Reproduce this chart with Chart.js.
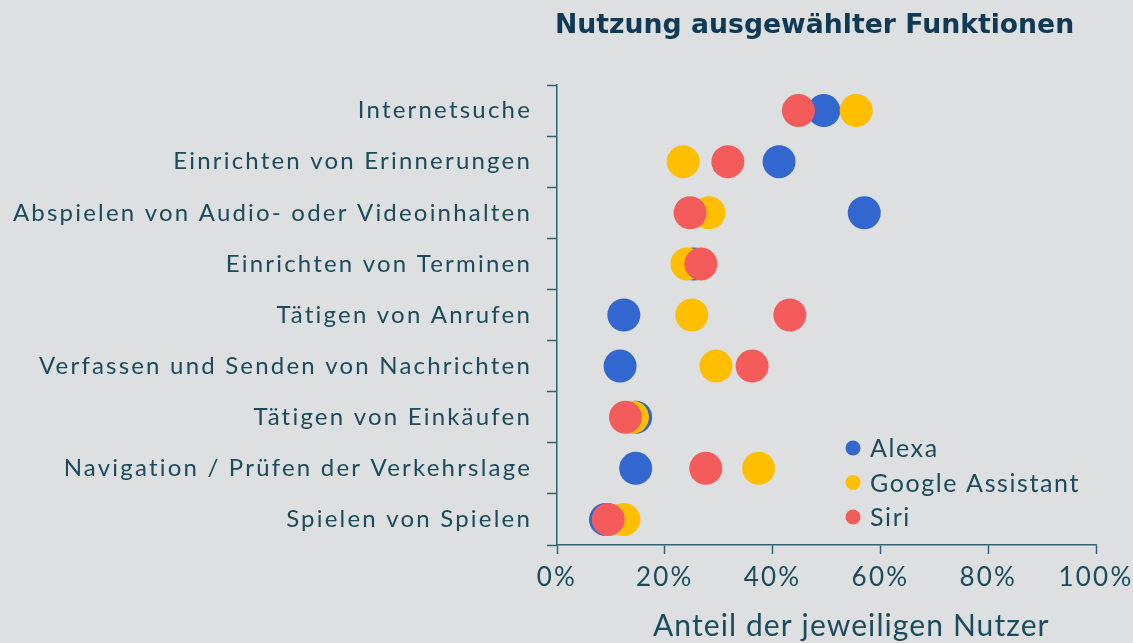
<!DOCTYPE html>
<html lang="de">
<head>
<meta charset="utf-8">
<title>Nutzung ausgewählter Funktionen</title>
<script src="https://cdn.jsdelivr.net/npm/chart.js@4.4.1/dist/chart.umd.min.js"></script>
<style>
  html, body { margin: 0; padding: 0; background: #dddfe0; }
  #wrap { width: 1133px; height: 643px; position: relative; }
</style>
</head>
<body>
<div id="wrap"><canvas id="chart" width="1133" height="643"></canvas></div>
<script>
const categories = [
    'Internetsuche',
    'Einrichten von Erinnerungen',
    'Abspielen von Audio- oder Videoinhalten',
    'Einrichten von Terminen',
    'Tätigen von Anrufen',
    'Verfassen und Senden von Nachrichten',
    'Tätigen von Einkäufen',
    'Navigation / Prüfen der Verkehrslage',
    'Spielen von Spielen'
];
const alexa = [49.5, 41.2, 57.0, 25.4, 12.4, 11.7, 14.6, 14.6, 9.0];
const googleAssistant = [55.5, 23.4, 28.2, 24.1, 25.0, 29.5, 14.0, 37.4, 12.4];
const siri = [44.8, 31.7, 24.7, 26.7, 43.2, 36.2, 12.7, 27.6, 9.5];
const xTicks = [0, 20, 40, 60, 80, 100];

const title = 'Nutzung ausgewählter Funktionen';
const xTitle = 'Anteil der jeweiligen Nutzer';

const axisColor = '#2e6470';
const textColor = '#1b4b5c';
const fontFamily = 'Lato, "Noto Sans", sans-serif';

// the original font is wide, so spread the letters a little
const spacing = {
    id: 'spacing',
    beforeDraw(chart) { chart.ctx.letterSpacing = '2.2px'; },
    beforeDatasetsDraw(chart) { chart.ctx.letterSpacing = '0px'; }
};

// titles and in-chart legend
const extraText = {
    id: 'extraText',
    afterDraw(chart) {
        const { ctx, chartArea } = chart;
        ctx.save();
        ctx.textBaseline = 'alphabetic';
        ctx.textAlign = 'left';
        ctx.fillStyle = '#0e3a56';
        ctx.letterSpacing = '0px';
        ctx.font = 'bold 26.7px "DejaVu Sans", sans-serif';
        ctx.fillText(title, chartArea.left - 2, 33);

        ctx.fillStyle = textColor;
        ctx.letterSpacing = '1.1px';
        ctx.font = '30px ' + fontFamily;
        ctx.fillText(xTitle, chartArea.left + 96, 636);

        // legend
        ctx.textBaseline = 'middle';
        ctx.letterSpacing = '1.6px';
        ctx.font = '25px ' + fontFamily;
        chart.data.datasets.forEach((ds, i) => {
            const y = 448 + i * 34.5;
            ctx.beginPath();
            ctx.fillStyle = ds.backgroundColor;
            ctx.arc(853, y, 7.5, 0, Math.PI * 2);
            ctx.fill();
            ctx.fillStyle = textColor;
            ctx.fillText(ds.label, 870, y + 1);
        });
        ctx.restore();
    }
};

const ctx = document.getElementById('chart').getContext('2d');
new Chart(ctx, {
    type: 'line',
    data: {
        labels: categories,
        datasets: [
            { label: 'Alexa', data: alexa, backgroundColor: '#3367d0', order: 3 },
            { label: 'Google Assistant', data: googleAssistant, backgroundColor: '#ffbf00', order: 2 },
            { label: 'Siri', data: siri, backgroundColor: '#f45b5b', order: 1 }
        ].map(ds => Object.assign(ds, {
            showLine: false,
            pointRadius: 16.5,
            pointHoverRadius: 16.5,
            pointBorderWidth: 0,
            borderColor: ds.backgroundColor
        }))
    },
    options: {
        responsive: false,
        animation: false,
        indexAxis: 'y',
        events: [],
        layout: { padding: { top: 85, right: 37, left: 0, bottom: 0 } },
        plugins: {
            legend: { display: false },
            tooltip: { enabled: false }
        },
        scales: {
            y: {
                type: 'category',
                offset: true,
                afterFit(scale) { scale.width = 557; },
                grid: {
                    offset: true,
                    drawOnChartArea: false,
                    drawTicks: true,
                    tickLength: 10,
                    tickColor: axisColor,
                    tickWidth: 1.5
                },
                border: { color: axisColor, width: 1.5 },
                ticks: {
                    color: textColor,
                    padding: 15,
                    font: { family: fontFamily, size: 24 }
                }
            },
            x: {
                type: 'linear',
                min: 0,
                max: 100,
                afterBuildTicks(scale) { scale.ticks = xTicks.map(v => ({ value: v })); },
                afterFit(scale) {
                    scale.height = 98;
                    scale.paddingRight = 0;
                    scale.paddingLeft = 0;
                },
                grid: {
                    drawOnChartArea: false,
                    drawTicks: true,
                    tickLength: 9,
                    tickColor: axisColor,
                    tickWidth: 1.5
                },
                border: { color: axisColor, width: 1.5 },
                ticks: {
                    color: textColor,
                    padding: 8,
                    maxRotation: 0,
                    font: { family: fontFamily, size: 26 },
                    callback: v => v + '%'
                }
            }
        }
    },
    plugins: [spacing, extraText]
});
</script>
</body>
</html>
